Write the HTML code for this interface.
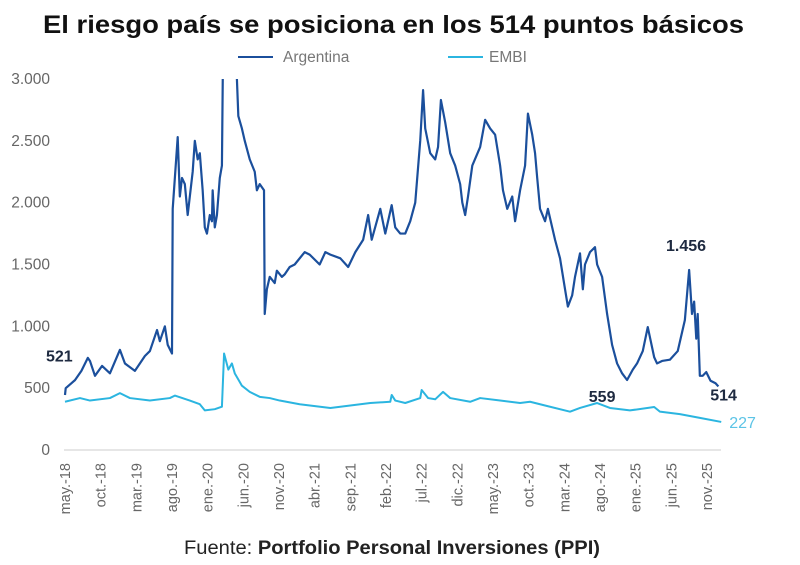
<!DOCTYPE html>
<html><head><meta charset="utf-8"><style>
body{margin:0;background:#fff;}
svg{display:block;font-family:"Liberation Sans",sans-serif;}
</style></head><body>
<svg width="800" height="565" viewBox="0 0 800 565" id="chart">
<text x="43" y="33" font-size="25" font-weight="bold" fill="#111" textLength="701" lengthAdjust="spacingAndGlyphs">El riesgo país se posiciona en los 514 puntos básicos</text>
<g>
<line x1="238" y1="57" x2="273" y2="57" stroke="#1b4f9c" stroke-width="2"/>
<text x="283" y="62" font-size="15.5" fill="#777">Argentina</text>
<line x1="448" y1="57" x2="483" y2="57" stroke="#2bb5e0" stroke-width="2"/>
<text x="489" y="62" font-size="15.5" fill="#777">EMBI</text>
</g>
<defs><clipPath id="plotclip"><rect x="55" y="79" width="700" height="372"/></clipPath></defs>
<g id="yaxis"></g><g id="xaxis"></g>
<line x1="64" y1="450" x2="721" y2="450" stroke="#ddd" stroke-width="1.5"/>
<g id="series" clip-path="url(#plotclip)"></g>
<g id="labels"></g>
<text x="184" y="554" font-size="19" fill="#222" textLength="416" lengthAdjust="spacingAndGlyphs">Fuente: <tspan font-weight="bold">Portfolio Personal Inversiones (PPI)</tspan></text>
</svg>
<script>
const argMonths=[0,0.1,1.4,2.3,3.2,3.5,4.2,5.2,6.3,7.7,8.4,9.8,11.2,11.9,12.9,13.3,14.0,14.4,15.0,15.1,15.8,16.1,16.4,16.8,17.2,17.9,18.2,18.6,18.9,19.3,19.6,19.9,20.3,20.6,20.7,21.0,21.3,21.7,22.0,22.2,23.0,24.1,24.3,24.8,25.2,25.9,26.6,26.9,27.3,27.9,28.0,28.3,28.7,29.4,29.7,30.4,30.8,31.5,32.2,33.6,34.3,35.7,36.5,37.2,38.6,39.7,40.7,41.8,42.5,43.0,44.2,44.9,45.8,46.3,47.0,47.7,48.4,49.1,49.8,50.2,50.5,51.2,51.9,52.3,52.7,53.3,54.0,54.7,55.4,55.7,56.1,56.5,57.1,58.2,58.9,59.6,60.3,61.0,61.4,62.0,62.7,63.1,63.8,64.5,64.9,65.5,65.9,66.2,66.6,67.3,67.7,68.3,68.7,69.4,70.1,70.5,71.1,71.5,72.2,72.6,72.9,73.6,74.3,74.6,75.3,76.0,76.7,77.4,78.1,78.8,79.6,80.2,81.0,81.7,82.6,83.0,83.7,84.8,85.9,86.9,87.5,87.9,88.2,88.5,88.7,89.0,89.4,89.9,90.5,91.2,91.6,92.0];
const argValues=[445,500,565,640,745,720,600,680,620,810,700,640,760,800,970,880,1000,850,780,1950,2530,2050,2200,2150,1900,2250,2500,2350,2400,2100,1800,1750,1900,1850,2100,1800,1900,2200,2300,3500,4500,3000,2700,2600,2500,2350,2250,2100,2150,2100,1100,1300,1400,1350,1450,1400,1420,1480,1500,1600,1580,1500,1600,1580,1550,1480,1600,1700,1900,1700,1950,1750,1980,1800,1750,1750,1850,2000,2500,2910,2600,2400,2350,2450,2830,2650,2400,2300,2150,2000,1900,2050,2300,2450,2670,2600,2550,2300,2100,1950,2050,1850,2100,2300,2720,2550,2400,2200,1950,1850,1950,1800,1700,1550,1300,1160,1250,1400,1590,1300,1500,1600,1640,1500,1400,1100,850,700,620,566,650,700,800,994,750,700,720,730,800,1050,1456,1100,1200,900,1100,600,600,630,560,540,514];
const embiMonths=[0,2.1,3.5,6.3,7.7,9.1,11.9,14.7,15.4,17.5,18.9,19.6,21.0,22.0,22.3,22.9,23.4,23.8,24.8,25.9,27.3,28.7,30.1,32.9,37.2,40.0,42.8,45.6,45.8,46.3,47.7,49.8,50.0,50.9,51.9,53.0,54.0,56.8,58.2,61.0,63.8,65.2,67.3,70.8,72.2,74.6,76.4,79.2,82.6,83.4,86.2,89.0,92.0];
const embiValues=[390,420,400,420,460,420,400,420,440,400,370,320,330,350,780,650,700,620,520,470,430,420,400,370,340,360,380,390,445,400,380,420,485,420,410,470,420,390,420,400,380,390,360,310,340,380,340,320,348,310,290,260,227];
const yTicks=[0,500,1000,1500,2000,2500,3000];
const yTickLabels=["0","500","1.000","1.500","2.000","2.500","3.000"];
const xTickMonths=[0,5,10,15,20,25,30,35,40,45,50,55,60,65,70,75,80,85,90];
const xTickLabels=["may.-18","oct.-18","mar.-19","ago.-19","ene.-20","jun.-20","nov.-20","abr.-21","sep.-21","feb.-22","jul.-22","dic.-22","may.-23","oct.-23","mar.-24","ago.-24","ene.-25","jun.-25","nov.-25"];
const annotValues=[521,559,1456,514];
const annotMonths=[0,79.6,87.9,92.0];
const embiLast=227;

const NS="http://www.w3.org/2000/svg";
const xS=m=>65+m*7.133;
const yS=v=>450-v*(371/3000);
function mk(tag,attrs,parent,txt){const e=document.createElementNS(NS,tag);for(const k in attrs)e.setAttribute(k,attrs[k]);if(txt!==undefined)e.textContent=txt;parent.appendChild(e);return e;}
const ya=document.getElementById('yaxis');
yTicks.forEach((v,i)=>{const t=mk('text',{x:50,y:yS(v)+5,'text-anchor':'end','font-size':15.5,fill:'#666'},ya,yTickLabels[i]);

});
const xa=document.getElementById('xaxis');
xTickMonths.forEach((m,i)=>{const x=xS(m)+5;const t=mk('text',{x:x,y:463,'text-anchor':'end','font-size':14.5,fill:'#666',transform:`rotate(-90 ${x} 463)`},xa,xTickLabels[i]);

});
const sg=document.getElementById('series');
const e=mk('polyline',{points:embiMonths.map((m,i)=>xS(m)+','+yS(embiValues[i])).join(' '),fill:'none',stroke:'#2bb5e0','stroke-width':2,'stroke-linejoin':'round'},sg);


const a=mk('polyline',{points:argMonths.map((m,i)=>xS(m)+','+yS(argValues[i])).join(' '),fill:'none',stroke:'#1b4f9c','stroke-width':2.2,'stroke-linejoin':'round'},sg);


const lg=document.getElementById('labels');
const offs=[[-19,-24],[-44,21],[-26,-19],[-11,14]];
annotValues.forEach((v,i)=>{const t=mk('text',{x:xS(annotMonths[i])+offs[i][0],y:yS(v)+offs[i][1],'font-size':16,'font-weight':'bold',fill:'#1e2a40'},lg,v.toLocaleString('de-DE'));

});
const el=mk('text',{x:xS(92)+8,y:yS(embiLast)+6,'font-size':16,fill:'#5cc4e6'},lg,String(embiLast));


</script>
</body></html>
